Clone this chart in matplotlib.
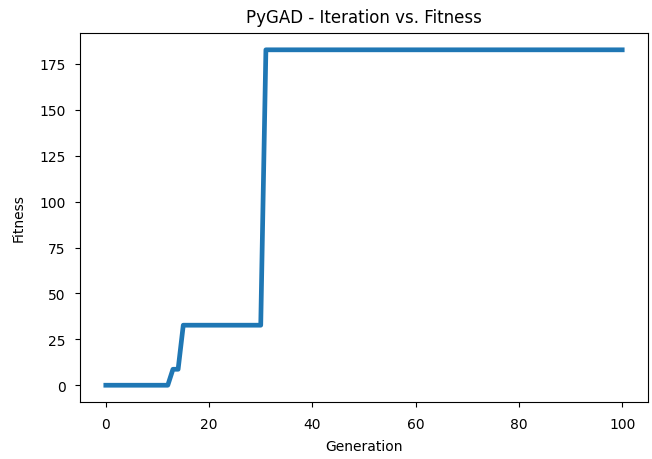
import matplotlib.pyplot as plt

plt.switch_backend('Agg')

# best fitness per generation
generations = list(range(101))
fitness = ([0.0] * 13          # gens 0-12
           + [8.7] * 2         # gens 13-14
           + [32.7] * 16       # gens 15-30
           + [182.7] * 70)     # gens 31-100

fig = plt.figure(figsize=(6.52, 4.6), dpi=100)
ax = fig.add_axes([0.1227, 0.1239, 0.8712, 0.8021])
ax.plot(generations, fitness, linewidth=3.4, color='#1f77b4')
ax.set_title('PyGAD - Iteration vs. Fitness', pad=8)
ax.set_xlabel('Generation', labelpad=6)
ax.set_ylabel('Fitness', labelpad=10)
ax.tick_params(pad=7)

fig.savefig('out.png', dpi=100)
plt.close(fig)
